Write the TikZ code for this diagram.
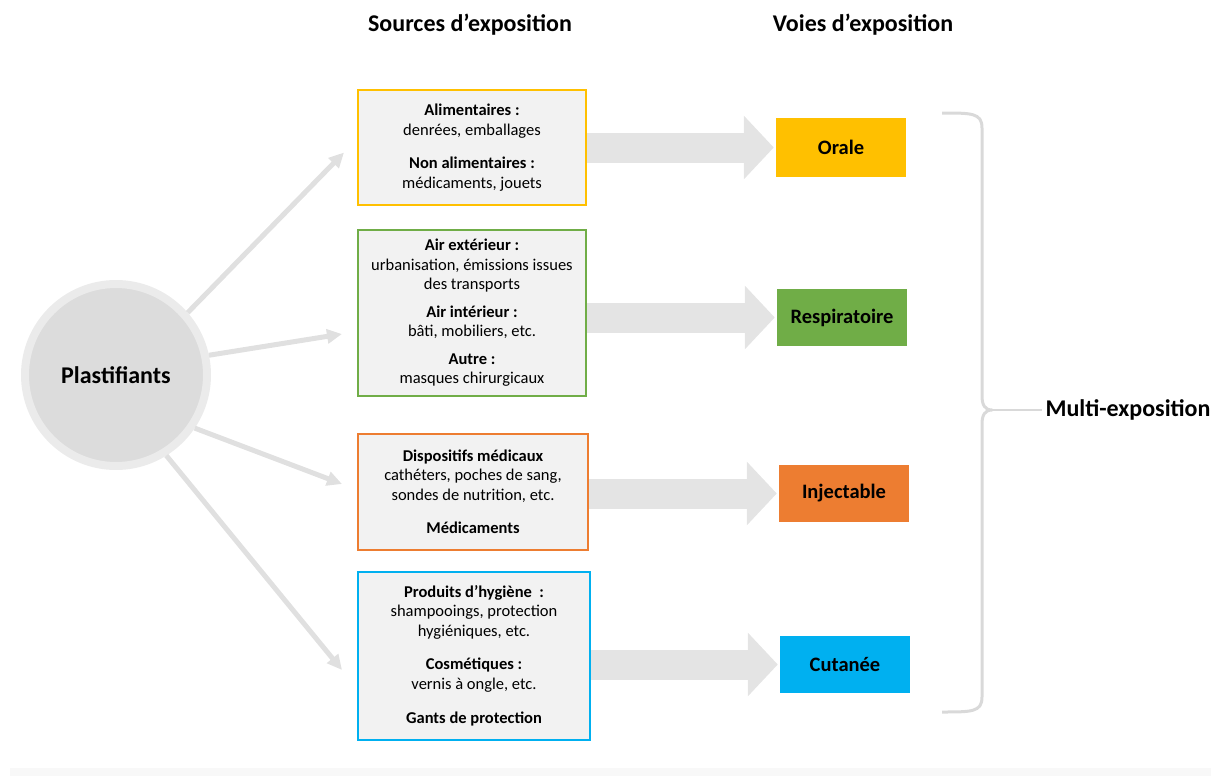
\documentclass[tikz,border=0pt]{standalone}
\usepackage{fontspec}
\setmainfont{Carlito}
\usetikzlibrary{arrows.meta}
\definecolor{cYel}{HTML}{FFC000}
\definecolor{cGrn}{HTML}{70AD47}
\definecolor{cOrg}{HTML}{ED7D31}
\definecolor{cBlu}{HTML}{00B0F0}
\definecolor{boxfill}{HTML}{F2F2F2}
\definecolor{arrgray}{HTML}{E4E4E4}
\definecolor{thingray}{HTML}{E0E0E0}
\definecolor{circfill}{HTML}{DCDCDC}
\definecolor{circring}{HTML}{EBEBEB}
\definecolor{bracegray}{HTML}{D9D9D9}
\definecolor{stripgray}{HTML}{F8F8F8}
\tikzset{
  srcbox/.style={draw=#1, line width=2pt, fill=boxfill, rectangle, align=center,
    font=\fontsize{16.5}{19.5}\selectfont, inner sep=0pt},
  routebox/.style={fill=#1, rectangle, minimum width=130pt, minimum height=58pt,
    font=\fontsize{20.5}{22}\selectfont\bfseries, inner sep=0pt},
  blockarrow/.style={draw=arrgray, line width=30pt, -{Triangle[length=30pt,width=62pt]}},
  thinarrow/.style={draw=thingray, line width=5pt, -{Triangle[length=15pt,width=14pt]}},
  titletext/.style={font=\fontsize{24}{26}\selectfont\bfseries}
}
\begin{document}
\begin{tikzpicture}[x=1pt,y=-1pt]
\useasboundingbox (0,0) rectangle (1211,776);
\fill[stripgray] (10,768) rectangle (1211,776);

% titles
\node[titletext] (t1) at (470,25) {Sources d’exposition};
\node[titletext] (t2) at (863,25) {Voies d’exposition};

% circle
\node[circle, fill=circfill, draw=circring, line width=8pt, minimum size=182pt,
  font=\fontsize{24}{26}\selectfont\bfseries] (plast) at (116,375) {Plastifiants};

% source boxes
\node[srcbox=cYel, minimum width=228pt, minimum height=115pt] (b1) at (472,147.5)
 {\textbf{Alimentaires :}\\ denrées, emballages\\[14pt] \textbf{Non alimentaires :}\\ médicaments, jouets};
\node[srcbox=cGrn, minimum width=228pt, minimum height=166pt] (b2) at (472,313)
 {\textbf{Air extérieur :}\\ urbanisation, émissions issues\\ des transports\\[8pt]
  \textbf{Air intérieur :}\\ bâti, mobiliers, etc.\\[8pt] \textbf{Autre :}\\ masques chirurgicaux};
\node[srcbox=cOrg, minimum width=230pt, minimum height=116pt] (b3) at (473,492)
 {\textbf{Dispositifs médicaux}\\ cathéters, poches de sang,\\ sondes de nutrition, etc.\\[14pt] \textbf{Médicaments}};
\node[srcbox=cBlu, minimum width=232pt, minimum height=168pt] (b4) at (474,656)
 {\textbf{Produits d’hygiène~ :}\\ shampooings, protection\\ hygiéniques, etc.\\[14pt]
  \textbf{Cosmétiques :}\\ vernis à ongle, etc.\\[15pt] \textbf{Gants de protection}};

% route boxes
\node[routebox=cYel, minimum height=59pt] (r1) at (841,147.5) {Orale};
\node[routebox=cGrn, minimum height=57pt] (r2) at (842,317.5) {Respiratoire};
\node[routebox=cOrg, minimum height=57pt] (r3) at (844,493.5) {Injectable};
\node[routebox=cBlu, minimum height=57pt] (r4) at (845,664.5) {Cutanée};

% block arrows
\draw[blockarrow] (b1.east |- r1.west) -- ([xshift=-2pt]r1.west);
\draw[blockarrow] (b2.east |- r2.west) -- ([xshift=-2pt]r2.west);
\draw[blockarrow] (b3.east |- r3.west) -- ([xshift=-2pt]r3.west);
\draw[blockarrow] (b4.east |- r4.west) -- ([xshift=-2pt]r4.west);

% thin arrows
\draw[thinarrow] (plast.41) -- ([shift={(-13pt,-5pt)}]b1.west);
\draw[thinarrow] (plast.12) -- ([shift={(-15pt,-21pt)}]b2.west);
\draw[thinarrow] (plast.-34) -- ([shift={(-15pt,8pt)}]b3.west);
\draw[thinarrow] (plast.-58) -- ([shift={(-15pt,-14pt)}]b4.west);

% brace
\coordinate (btip) at (992,410);
\draw[bracegray, line width=3pt, line join=round]
  (942,113) .. controls (972,113) and (982,113) .. (982,128) -- (982,396)
  .. controls (982,405) and (985,410) .. (btip)
  .. controls (985,410) and (982,415) .. (982,424) -- (982,697)
  .. controls (982,712) and (972,712) .. (942,712);
\node[titletext, anchor=west] (multi) at (1042,410) {Multi-exposition};
\draw[bracegray, line width=2pt] (btip) -- (multi.west);
\end{tikzpicture}
\end{document}
